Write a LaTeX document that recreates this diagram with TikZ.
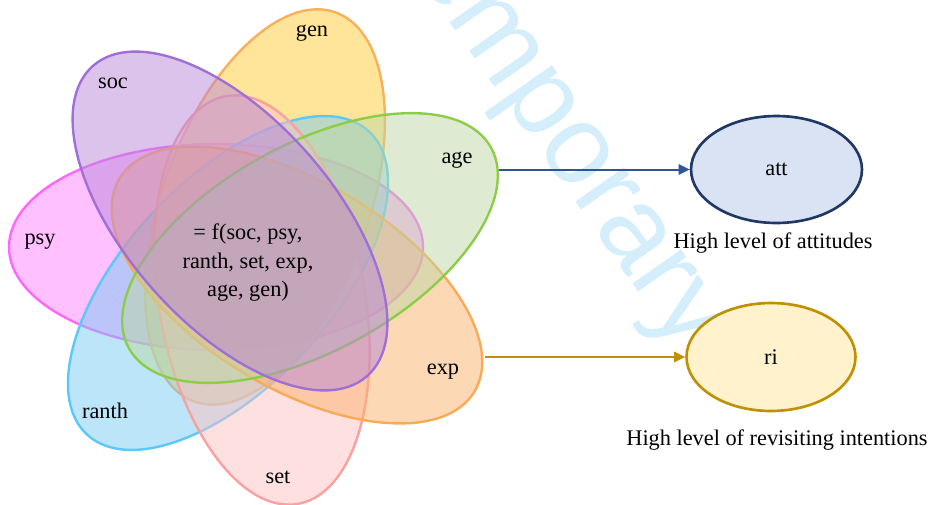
\documentclass[tikz,border=0pt]{standalone}
\usepackage{fontspec}
\setmainfont{Liberation Serif}
\newfontfamily\wmfont{Liberation Sans}
\usetikzlibrary{shapes.geometric}

\definecolor{psyfill}{RGB}{255,129,255}
\definecolor{psyline}{RGB}{255,102,255}
\definecolor{genfill}{RGB}{255,203,51}
\definecolor{genline}{RGB}{250,175,90}
\definecolor{ranthfill}{RGB}{121,203,243}
\definecolor{ranthline}{RGB}{90,200,250}
\definecolor{setfill}{RGB}{255,193,193}
\definecolor{setline}{RGB}{250,160,160}
\definecolor{expfill}{RGB}{251,177,107}
\definecolor{expline}{RGB}{250,170,85}
\definecolor{agefill}{RGB}{189,215,165}
\definecolor{ageline}{RGB}{140,205,70}
\definecolor{socfill}{RGB}{183,135,217}
\definecolor{socline}{RGB}{160,110,215}
\definecolor{attfill}{RGB}{218,227,243}
\definecolor{attedge}{RGB}{32,56,100}
\definecolor{attarrow}{RGB}{47,85,151}
\definecolor{rifill}{RGB}{255,242,204}
\definecolor{riedge}{RGB}{191,144,0}
\definecolor{wmblue}{RGB}{212,238,251}

\begin{document}
\begin{tikzpicture}[x=0.02cm,y=0.02cm]
\tikzset{
  petal/.style={line width=1.35pt,fill opacity=0.5},
  lbl/.style={inner sep=0pt,font=\fontsize{12.7}{16.2}\selectfont},
  outcome/.style={ellipse,line width=1.5pt,inner sep=0pt,font=\fontsize{12.7}{16.2}\selectfont},
  link/.style={line width=1.3pt}
}
\useasboundingbox (0,0) rectangle (932,-504);
\begin{scope}
\clip (0,0) rectangle (932,-504);
\node [text=wmblue,rotate=-55,inner sep=0pt,font=\wmfont\fontsize{64}{64}\selectfont] (wmark) at (552,-121) {Temporary};
\end{scope}
\draw [petal,draw=psyline,fill=psyfill] (216,-247) ellipse (207 and 103);
\draw [petal,draw=genline,fill=genfill,rotate around={70:(265,-207)}] (265,-207) ellipse (207 and 103);
\draw [petal,draw=ranthline,fill=ranthfill,rotate around={47:(228,-283)}] (228,-283) ellipse (207 and 103);
\draw [petal,draw=setline,fill=setfill,rotate around={-80:(262,-300)}] (262,-300) ellipse (207 and 103);
\draw [petal,draw=expline,fill=expfill,rotate around={-31:(297,-285)}] (297,-285) ellipse (207 and 103);
\draw [petal,draw=ageline,fill=agefill,rotate around={29:(310,-248)}] (310,-248) ellipse (207 and 103);
\draw [petal,draw=socline,fill=socfill,rotate around={-48.5:(230,-221)}] (230,-221) ellipse (207 and 103);
\node [lbl] (gen) at (312,-33) {gen};
\node [lbl] (soc) at (113,-83) {soc};
\node [lbl] (age) at (457,-160) {age};
\node [lbl] (psy) at (40,-242) {psy};
\node [lbl] (exp) at (443,-372) {exp};
\node [lbl] (ranth) at (105,-411) {ranth};
\node [lbl] (set) at (278,-477) {set};
\node [lbl,align=center] (fx) at (248,-263) {= f(soc, psy,\\ranth, set, exp,\\age, gen)};
\coordinate (ageR) at (499,-170);
\coordinate (expR) at (485,-357);
\node [outcome,draw=attedge,fill=attfill,minimum width=3.42cm,minimum height=2.14cm] (att) at (776.5,-169.5) {att};
\node [outcome,draw=riedge,fill=rifill,minimum width=3.38cm,minimum height=2.16cm] (ri) at (771,-357) {ri};
\node [lbl] (attcap) at (773,-243) {High level of attitudes};
\node [lbl] (ricap) at (777,-440) {High level of revisiting intentions};
\draw [link,attarrow] (ageR) -- ++(180,0);
\fill [attarrow] (att.west) -- ++(-11,5.5) -- ++(0,-11) -- cycle;
\draw [link,riedge] (expR) -- ++(190,0);
\fill [riedge] (ri.west) -- ++(-11,5.5) -- ++(0,-11) -- cycle;
\end{tikzpicture}
\end{document}
